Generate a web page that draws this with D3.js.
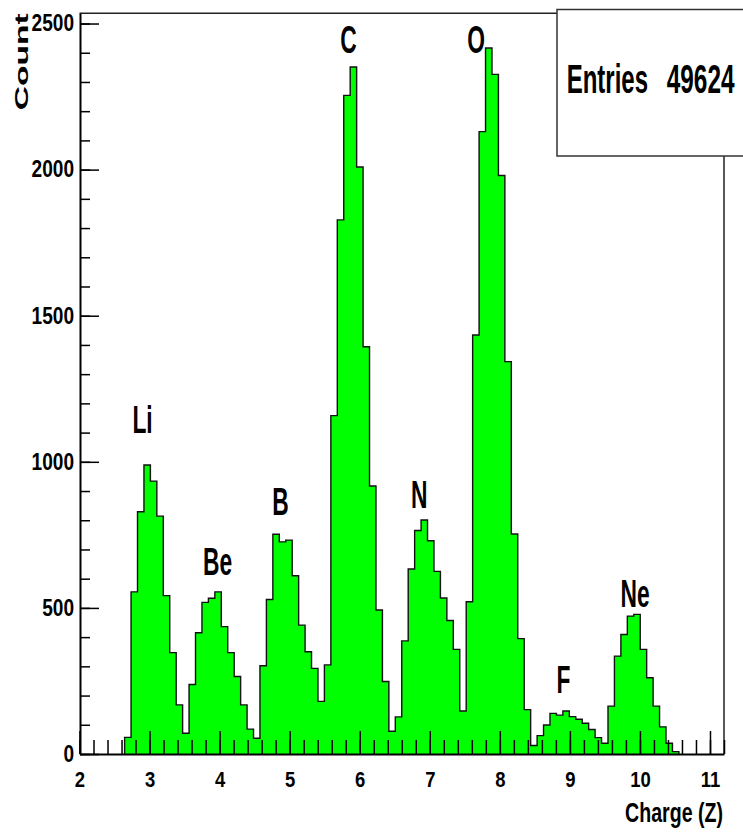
<!DOCTYPE html>
<html lang="en">
  <head>
    <meta charset="utf-8">
    <title>Charge histogram</title>
    <script src="https://d3js.org/d3.v7.js"></script>
    <style>
      body { margin: 0; background: #fff; }
      text { font-family: "Liberation Sans", Arial, Helvetica, sans-serif; font-weight: bold; fill: #000; }
    </style>
  </head>
  <body>
    <script>
  var w = 743;
  var h = 832;

  // histogram: 100 bins from 2 to 11.2, first filled bin is #7
  var binLow = 2;
  var binWidth = 0.092;
  var firstBin = 7;
  var binCounts = [
    57, 555, 829, 989, 934, 814, 542, 347, 168, 71,            // Li
    238, 415, 519, 533, 555, 436, 347, 265, 168, 85, 54,       // Be
    302, 529, 752, 726, 732, 610, 441, 350, 293, 180, 305,     // B
    1158, 1828, 2254, 2351, 2009, 1394, 917, 493, 248, 78, 127, // C
    387, 633, 765, 801, 730, 625, 534, 457, 358, 147, 521,     // N
    1434, 2130, 2416, 2326, 1980, 1343, 753, 395, 152,         // O
    29, 63, 99, 139, 133, 147, 128, 119, 105, 84, 56, 37,      // F
    164, 335, 409, 472, 478, 358, 261, 164, 93, 37, 8          // Ne
  ];

  var xTicks = [2, 3, 4, 5, 6, 7, 8, 9, 10, 11];
  var yTicks = [0, 500, 1000, 1500, 2000, 2500];

  // peak labels, placed in data units
  var elements = ["Li", "Be", "B", "C", "N", "O", "F", "Ne"];
  var labelZ = [2.90, 3.97, 4.87, 5.84, 6.85, 7.66, 8.91, 9.93];
  var labelCount = [1098, 612, 818, 2398, 842, 2400, 209, 503];

  var entries = 49624;

  var xScale = d3.scaleLinear().domain([2, 11.2]).range([79.5, 724]);
  var yScale = d3.scaleLinear().domain([0, 2535]).range([754, 13.3]);

  var svg = d3.select("body")
    .append("svg")
    .attr("width", w)
    .attr("height", h);

  // frame (top and right)
  svg.append("path")
    .attr("d", "M" + xScale(2) + "," + yScale(2535) + "H" + xScale(11.2) + "V" + yScale(0))
    .attr("fill", "none")
    .attr("stroke", "#222")
    .attr("stroke-width", 1.5);

  // histogram outline as a step path
  var pts = [[xScale(binLow + firstBin * binWidth), yScale(0)]];
  binCounts.forEach(function (c, i) {
    var lo = binLow + (firstBin + i) * binWidth;
    pts.push([xScale(lo), yScale(c)]);
    pts.push([xScale(lo + binWidth), yScale(c)]);
  });
  pts.push([xScale(binLow + (firstBin + binCounts.length) * binWidth), yScale(0)]);

  svg.append("path")
    .datum(pts)
    .attr("d", d3.line())
    .attr("fill", "#00ff00")
    .attr("stroke", "#111")
    .attr("stroke-width", 1.4);

  // axes, ticks pointing into the frame
  var xMinor = d3.range(2, 11.25, 0.2);
  var yMinor = d3.range(0, 2501, 100);

  svg.append("g")
    .attr("transform", "translate(0,754)")
    .call(d3.axisBottom(xScale).tickValues(xMinor).tickSizeInner(-14).tickSizeOuter(0).tickFormat(""))
    .call(function (g) { g.select(".domain").remove(); });

  var xAxis = svg.append("g")
    .attr("transform", "translate(0,754)")
    .call(d3.axisBottom(xScale).tickValues(xTicks).tickSizeInner(-23).tickSizeOuter(0).tickPadding(17).tickFormat(d3.format("d")));

  svg.append("g")
    .attr("transform", "translate(80,0)")
    .call(d3.axisLeft(yScale).tickValues(yMinor).tickSizeInner(-10).tickSizeOuter(0).tickFormat(""))
    .call(function (g) { g.select(".domain").remove(); });

  var yAxis = svg.append("g")
    .attr("transform", "translate(80,0)")
    .call(d3.axisLeft(yScale).tickValues(yTicks).tickSizeInner(-19).tickSizeOuter(0).tickPadding(6).tickFormat(d3.format("d")));

  [xAxis, yAxis].forEach(function (g) {
    g.selectAll(".domain").attr("stroke", "#000").attr("stroke-width", 2);
    g.selectAll("text")
      .style("font-family", "'Liberation Sans', Arial, sans-serif")
      .style("font-weight", "bold")
      .attr("fill", "#000");
  });
  svg.selectAll("g.tick line").attr("stroke", "#000").attr("stroke-width", 1.5);
  xAxis.selectAll("text").style("font-size", "22px").attr("transform", "scale(0.84,1)");
  yAxis.selectAll("text").style("font-size", "23px").attr("transform", "scale(0.83,1)").attr("x", -6 / 0.83);

  function label(x, y, txt, size, scaleX, anchor) {
    svg.append("text")
      .attr("transform", "translate(" + x + "," + y + ") scale(" + scaleX + ",1)")
      .attr("text-anchor", anchor)
      .style("font-size", size + "px")
      .text(txt);
  }

  // element names over the peaks
  elements.forEach(function (el, i) {
    label(xScale(labelZ[i]), yScale(labelCount[i]), el, 38, 0.6, "middle");
  });

  // axis titles
  label(723, 821.7, "Charge (Z)", 28, 0.7, "end");
  svg.append("text")
    .attr("transform", "translate(28,13.3) rotate(-90) scale(1,0.55)")
    .attr("text-anchor", "end")
    .style("font-size", "33.6px")
    .text("Count");

  // stats box
  svg.append("rect")
    .attr("x", 557)
    .attr("y", 9.5)
    .attr("width", 200)
    .attr("height", 146.5)
    .attr("fill", "#fff")
    .attr("stroke", "#333")
    .attr("stroke-width", 1.5);
  label(566.7, 93.3, "Entries", 40, 0.6, "start");
  label(666.7, 93.3, String(entries), 40, 0.61, "start");
    </script>
  </body>
</html>
